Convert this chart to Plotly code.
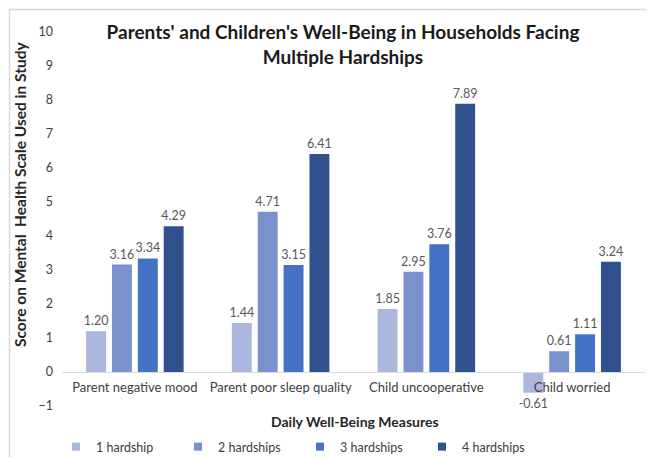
import plotly.graph_objects as go

categories = ["Parent negative mood", "Parent poor sleep quality", "Child uncooperative", "Child worried"]
series_names = ["1 hardship", "2 hardships", "3 hardships", "4 hardships"]
hard1 = [1.20, 1.44, 1.85, -0.61]
hard2 = [3.16, 4.71, 2.95, 0.61]
hard3 = [3.34, 3.15, 3.76, 1.11]
hard4 = [4.29, 6.41, 7.89, 3.24]
y_ticks = [-1, 0, 1, 2, 3, 4, 5, 6, 7, 8, 9, 10]

colors = ["#ABB7DD", "#7B91CE", "#4472C4", "#2F528F"]
FONT = "Lato"

# page is rendered with an 8px body margin
OFF = 8
W, H = 644, 449
# plot area in page pixels
PX0, PX1, PY0, PY1 = 62, 645, 32, 406
ML, MR, MT, MB = PX0 - OFF, (OFF + W) - PX1, PY0 - OFF, (OFF + H) - PY1
pw = PX1 - PX0
ph = PY1 - PY0

def px_x(x):
    return (x - PX0) / pw

def px_y(y):
    return (PY1 - y) / ph

fig = go.Figure()
for name, vals, c in zip(series_names, [hard1, hard2, hard3, hard4], colors):
    fig.add_trace(go.Bar(
        x=categories, y=vals, name=name, marker_color=c, marker_line_width=0,
        texttemplate="%{y:.2f}", textposition="outside", cliponaxis=False,
        constraintext="none",
        textfont=dict(family=FONT, size=12.5, color="#595959"),
        showlegend=False, hoverinfo="skip",
    ))
for name, c in zip(series_names, colors):
    fig.add_trace(go.Scatter(
        x=[None], y=[None], mode="markers", name=name,
        marker=dict(symbol="square", size=8, color=c),
    ))

fig.update_layout(
    width=W, height=H,
    margin=dict(l=ML, r=MR, t=MT, b=MB, autoexpand=False),
    paper_bgcolor="white", plot_bgcolor="white",
    barmode="group", bargap=0.29, bargroupgap=0.23,
    font=dict(family=FONT, color="#404040"),
    title=dict(
        text="<b>Parents' and Children's Well-Being in Households Facing<br>Multiple Hardships</b>",
        x=(343 - OFF) / W, xanchor="center", y=1 - (39 - OFF) / H, yanchor="middle",
        font=dict(family=FONT, size=19, color="#1a1a1a"),
    ),
    xaxis=dict(
        anchor="free", position=1 / 11, showline=True, linecolor="#d9d9d9", linewidth=1,
        ticks="", showgrid=False, ticklabelstandoff=3, automargin=False,
        tickfont=dict(family=FONT, size=13, color="#404040"),
    ),
    yaxis=dict(
        range=[-1, 10], tickvals=y_ticks, showgrid=False, zeroline=False, showline=False,
        ticks="", ticklabelstandoff=8, automargin=False,
        tickfont=dict(family=FONT, size=12.5, color="#404040"),
    ),
    legend=dict(
        orientation="h", x=px_x(56), xanchor="left", y=px_y(447), yanchor="middle",
        entrywidth=77, font=dict(family=FONT, size=12.5, color="#404040"),
        bgcolor="rgba(0,0,0,0)",
    ),
    annotations=[
        dict(
            text="<b>Daily Well-Being Measures</b>", xref="paper", yref="paper",
            x=px_x(355), y=px_y(421), xanchor="center", yanchor="middle", showarrow=False,
            font=dict(family=FONT, size=14, color="#262626"),
        ),
        dict(
            text="<b>Score on Mental  Health Scale Used in Study</b>", xref="paper", yref="paper",
            x=px_x(20), y=px_y(195), xanchor="center", yanchor="middle", showarrow=False,
            textangle=-90, font=dict(family=FONT, size=15.5, color="#262626"),
        ),
    ],
    shapes=[dict(
        type="rect", xref="paper", yref="paper",
        x0=px_x(OFF + 1.5), x1=px_x(700), y0=px_y(500), y1=px_y(OFF + 1.5),
        line=dict(color="#d9d9d9", width=1.5), fillcolor="rgba(0,0,0,0)", layer="below",
    )],
)

fig.write_html("out.html")
